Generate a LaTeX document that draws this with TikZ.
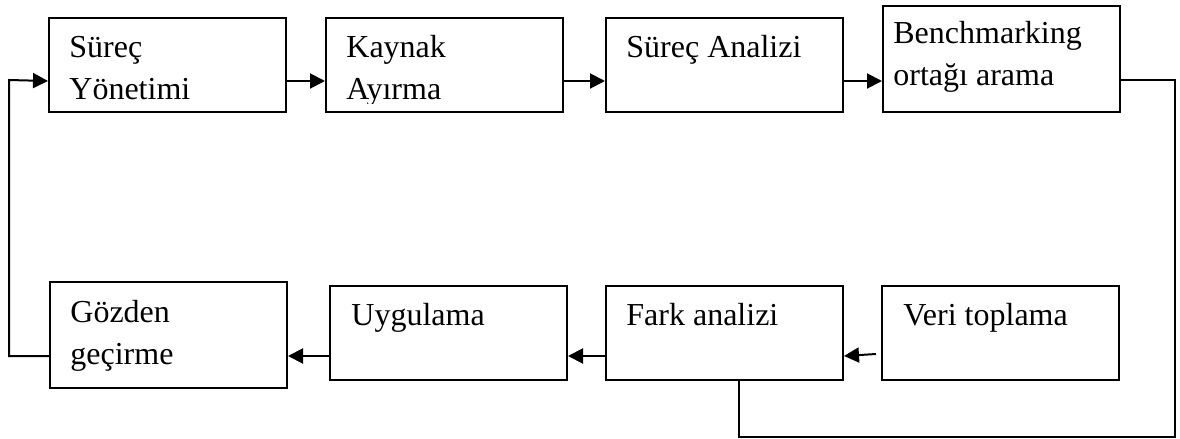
\documentclass[tikz,border=0pt]{standalone}
\usepackage{fontspec}
\setmainfont{Liberation Serif}
\usetikzlibrary{arrows.meta}
\begin{document}
\begin{tikzpicture}[x=0.5pt, y=-0.5pt,
  stagebox/.style={draw, line width=1pt, minimum width=118.5pt, minimum height=47pt,
    inner sep=0pt, anchor=north west},
  tallbox/.style={stagebox, minimum height=53pt},
  lbl/.style={anchor=base west, inner sep=0pt},
  flow/.style={line width=1pt},
  arr/.style={flow, -{Triangle[length=7.5pt, width=7.5pt]}}]
\useasboundingbox (0,0) rectangle (1180,439);
\newcommand{\lines}[1]{\parbox[t]{110pt}{\fontsize{16}{21}\selectfont\raggedright #1}}

% top row
\node[stagebox] (sy) at (48,17) {};
\node[stagebox] (ka) at (325,17) {};
\node[stagebox] (sa) at (605,17) {};
\node[tallbox]  (bo) at (882,5) {};
% bottom row
\node[tallbox]  (gz) at (49,281) {};
\node[stagebox] (uy) at (329,285) {};
\node[stagebox] (fa) at (605,285) {};
\node[stagebox] (ve) at (881,285) {};

% labels
\node[lbl] (tsy) at (69,57) {\lines{Süreç\\Yönetimi}};
\begin{scope}
  \clip (ka.north west) rectangle ([yshift=5pt]ka.south east);
  \node[lbl] (tka) at (346,57) {\lines{Kaynak\\Ayırma}};
\end{scope}
\node[lbl] (tsa) at (626,57) {\lines{Süreç Analizi}};
\node[lbl] (tbo) at (893,43) {\lines{Benchmarking\\ortağı arama}};
\node[lbl] (tgz) at (70,322) {\lines{Gözden\\geçirme}};
\node[lbl] (tuy) at (351,325) {\lines{Uygulama}};
\node[lbl] (tfa) at (626,325) {\lines{Fark analizi}};
\node[lbl] (tve) at (903,325) {\lines{Veri toplama}};

% forward arrows along the top row
\draw[arr] ([yshift=-8pt]sy.east) -- ([yshift=-8pt]ka.west);
\draw[arr] ([yshift=-8pt]ka.east) -- ([yshift=-8pt]sa.west);
\draw[arr] ([yshift=-8pt]sa.east) -- ([yshift=-11pt]bo.west);

% return line from the partner search down to the gap analysis
\coordinate (rc) at (1175,437);
\draw[flow] ([yshift=-10.5pt]bo.east) -| (rc) -| ([xshift=7pt]fa.south);

% backward arrows along the bottom row
\draw[arr] ([xshift=-2.5pt, yshift=-10.5pt]ve.west) -- ([yshift=-11.5pt]fa.east);
\draw[arr] ([yshift=-11.5pt]fa.west) -- ([yshift=-11.5pt]uy.east);
\draw[arr] ([yshift=-11.5pt]uy.west) -- ([yshift=-10.5pt]gz.east);

% loop back to process management
\coordinate (lc) at (9,80);
\draw[arr] ([yshift=-10.5pt]gz.west) -| (lc) -- ([yshift=-8pt]sy.west);
\end{tikzpicture}
\end{document}
